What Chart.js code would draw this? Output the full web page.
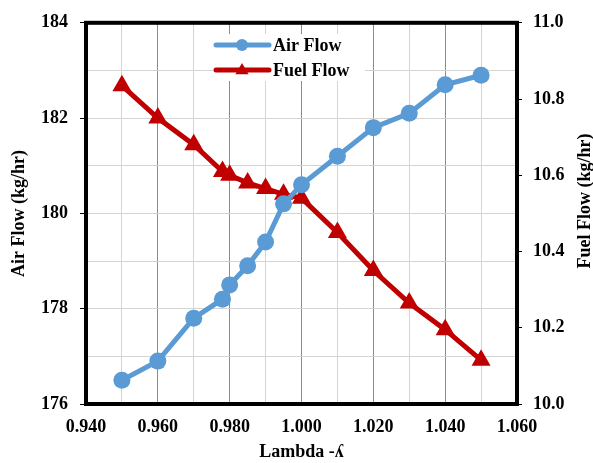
<!DOCTYPE html>
<html>
<head>
<meta charset="utf-8">
<script src="https://cdn.jsdelivr.net/npm/chart.js@4"></script>
<style>
  html, body { margin: 0; padding: 0; background: #fff; }
  #wrap { width: 593px; height: 463px; }
</style>
</head>
<body>
<div id="wrap"><canvas id="flow"></canvas></div>
<script>
const lambda = [0.950, 0.960, 0.970, 0.978, 0.980, 0.985, 0.990, 0.995, 1.000, 1.010, 1.020, 1.030, 1.040, 1.050];
const airFlow = [176.5, 176.9, 177.8, 178.2, 178.5, 178.9, 179.4, 180.2, 180.6, 181.2, 181.8, 182.1, 182.7, 182.9];
const fuelFlow = [10.835, 10.75, 10.68, 10.61, 10.60, 10.58, 10.565, 10.55, 10.54, 10.45, 10.35, 10.265, 10.195, 10.115];

const FONT = { family: '"Liberation Serif", "Times New Roman", serif', size: 18, weight: 'bold' };
const AIR = '#5B9BD5';
const FUEL = '#C00000';

const toPoints = ys => lambda.map((x, i) => ({ x, y: ys[i] }));

// frame round the plot, in-plot legend and the right-hand axis title
const extras = {
  id: 'extras',
  beforeDatasetsDraw(chart) {
    const { ctx, chartArea: a } = chart;
    ctx.save();
    ctx.strokeStyle = '#000';
    ctx.lineWidth = 4;
    ctx.strokeRect(a.left, a.top, a.right - a.left, a.bottom - a.top);
    ctx.restore();
  },
  afterDraw(chart) {
    const { ctx, chartArea: a } = chart;
    ctx.save();
    // legend box
    const lx = 213, ly = 34;
    ctx.fillStyle = '#fff';
    ctx.fillRect(lx, ly, 152, 47);
    ctx.font = 'bold 18px "Liberation Serif", "Times New Roman", serif';
    ctx.textBaseline = 'middle';
    chart.data.datasets.forEach((ds, i) => {
      const y = 45 + i * 25;
      ctx.strokeStyle = ds.borderColor;
      ctx.lineWidth = 5;
      ctx.lineCap = 'round';
      ctx.beginPath();
      ctx.moveTo(216, y);
      ctx.lineTo(269, y);
      ctx.stroke();
      ctx.fillStyle = ds.backgroundColor;
      ctx.beginPath();
      if (ds.pointStyle === 'triangle') {
        const r = 7;
        ctx.moveTo(242, y - r);
        ctx.lineTo(242 + r * 0.95, y + r * 0.6);
        ctx.lineTo(242 - r * 0.95, y + r * 0.6);
        ctx.closePath();
      } else {
        ctx.arc(242, y, 6, 0, Math.PI * 2);
      }
      ctx.fill();
      ctx.fillStyle = '#000';
      ctx.textAlign = 'left';
      ctx.fillText(ds.label, 273, y + 1);
    });
    // right axis title, reading upwards
    ctx.translate(585, 201);
    ctx.rotate(-Math.PI / 2);
    ctx.textAlign = 'center';
    ctx.fillStyle = '#000';
    ctx.fillText('Fuel Flow (kg/hr)', 0, 0);
    ctx.restore();
  }
};

new Chart(document.getElementById('flow'), {
  type: 'line',
  data: {
    datasets: [
      {
        label: 'Air Flow',
        data: toPoints(airFlow),
        yAxisID: 'y',
        borderColor: AIR,
        backgroundColor: AIR,
        borderWidth: 5,
        pointStyle: 'circle',
        pointRadius: 8.5,
        pointHoverRadius: 8.5,
        pointBorderWidth: 0
      },
      {
        label: 'Fuel Flow',
        data: toPoints(fuelFlow),
        yAxisID: 'y1',
        borderColor: FUEL,
        backgroundColor: FUEL,
        borderWidth: 5,
        pointStyle: 'triangle',
        pointRadius: 11,
        pointHoverRadius: 11,
        pointBorderWidth: 0
      }
    ]
  },
  options: {
    responsive: true,
    maintainAspectRatio: false,
    animation: false,
    layout: { padding: { top: 20, left: 0, right: 0, bottom: 0 } },
    plugins: {
      legend: { display: false },
      tooltip: { enabled: false }
    },
    scales: {
      x: {
        type: 'linear',
        min: 0.94,
        max: 1.06,
        afterFit: s => { s.height = 59; },
        afterBuildTicks: s => {
          s.ticks = [];
          for (let i = 0; i <= 12; i++) s.ticks.push({ value: +(0.94 + i * 0.01).toFixed(2) });
        },
        grid: {
          color: c => (Math.round(c.tick.value * 100) % 2 === 0 ? '#8c8c8c' : '#d4d4d4'),
          lineWidth: 1,
          drawTicks: false
        },
        border: { display: false },
        ticks: {
          color: '#000',
          font: FONT,
          padding: 13,
          autoSkip: false,
          maxRotation: 0,
          callback: v => (Math.round(v * 100) % 2 === 0 ? v.toFixed(3) : '')
        },
        title: { display: true, text: 'Lambda -ʎ', color: '#000', font: FONT, padding: { top: 0, bottom: 0 } }
      },
      y: {
        position: 'left',
        min: 176,
        max: 184,
        afterFit: s => { s.width = 86; },
        grid: {
          color: '#d4d4d4',
          lineWidth: 1,
          tickLength: 6,
          tickColor: c => (c.tick.value % 2 === 0 ? '#000' : 'rgba(0,0,0,0)')
        },
        border: { display: false },
        ticks: {
          stepSize: 1,
          color: '#000',
          font: FONT,
          padding: 12,
          callback: v => (v % 2 === 0 ? v : '')
        },
        title: { display: true, text: 'Air Flow (kg/hr)', color: '#000', font: FONT, padding: { top: 9, bottom: 0 } }
      },
      y1: {
        position: 'right',
        min: 10,
        max: 11,
        afterFit: s => { s.width = 76; },
        grid: { drawOnChartArea: false, tickLength: 5, tickColor: '#000' },
        border: { display: false },
        ticks: {
          stepSize: 0.2,
          color: '#000',
          font: FONT,
          padding: 11,
          callback: v => v.toFixed(1)
        }
      }
    }
  },
  plugins: [extras]
});
</script>
</body>
</html>
